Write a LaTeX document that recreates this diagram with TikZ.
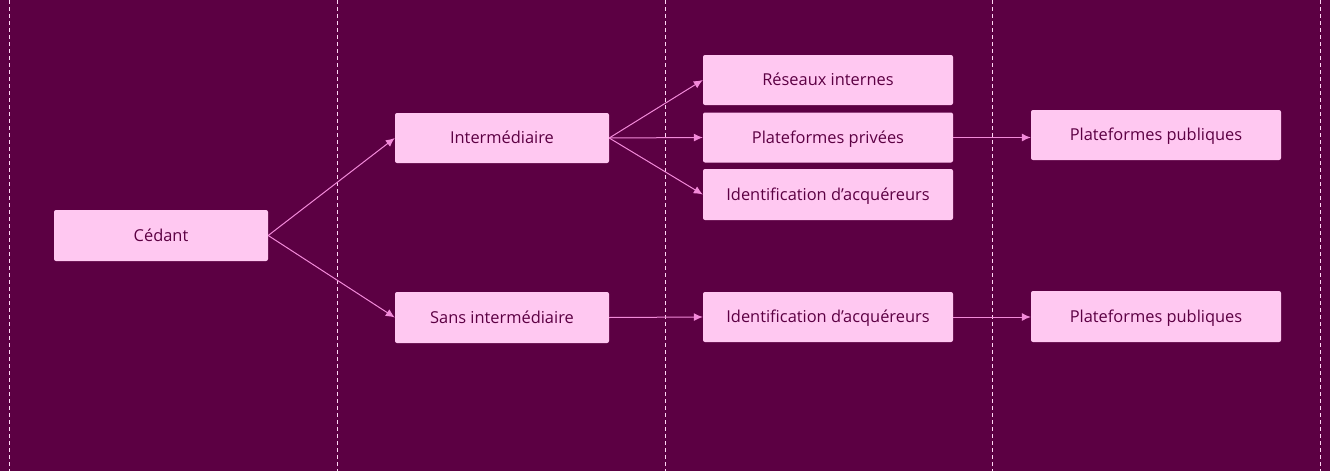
\documentclass[tikz,border=0pt]{standalone}
\usepackage{fontspec}
\setmainfont{Open Sans}
\usetikzlibrary{arrows.meta}
\definecolor{bg}{HTML}{5C0043}
\definecolor{boxfill}{HTML}{FFC8F1}
\definecolor{txt}{HTML}{5C0043}
\definecolor{arr}{HTML}{F28AD9}
\definecolor{lane}{HTML}{FFD6F4}
\tikzset{
  box/.style={draw=none, fill=boxfill, rounded corners=2pt, text=txt, font=\fontsize{16.4}{19}\selectfont, inner sep=0pt, text height=11.7pt, text depth=0pt, anchor=center},
  link/.style={draw=arr, line width=1pt, -{Latex[length=9pt,width=8pt]}},
  lanes/.style={draw=lane, line width=1pt, dash pattern=on 4pt off 3pt}
}
\begin{document}
\begin{tikzpicture}[x=1pt,y=-1pt]
\fill[bg] (0,0) rectangle (1330,471);
\useasboundingbox (0,0) rectangle (1330,471);
\foreach \xx/\nm in {9/l1,337/l2,665/l3,992/l4,1320/l5}{
  \coordinate (\nm t) at (\xx,0);
  \coordinate (\nm b) at (\xx,471);
  \draw[lanes] (\nm t) -- (\nm b);
}
\node[box, minimum width=214pt, minimum height=51pt] (cedant) at (161,235.5) {Cédant};
\node[box, minimum width=214pt, minimum height=50pt] (inter) at (502,138) {Intermédiaire};
\node[box, minimum width=214pt, minimum height=51pt] (sans) at (502,317.5) {Sans intermédiaire};
\node[box, minimum width=250pt, minimum height=50pt] (reseaux) at (828,80) {Réseaux internes};
\node[box, minimum width=250pt, minimum height=50pt] (privees) at (828,137.5) {Plateformes privées};
\node[box, minimum width=250pt, minimum height=51pt] (ident1) at (828,194.5) {Identification d’acquéreurs};
\node[box, minimum width=250pt, minimum height=50pt] (ident2) at (828,317) {Identification d’acquéreurs};
\node[box, minimum width=250pt, minimum height=50pt] (pub1) at (1156,135) {Plateformes publiques};
\node[box, minimum width=250pt, minimum height=51pt] (pub2) at (1156,316.5) {Plateformes publiques};
\draw[link] (cedant.east) -- (inter.west);
\draw[link] (cedant.east) -- (sans.west);
\draw[link] (inter.east) -- (reseaux.west);
\draw[link] (inter.east) -- (privees.west);
\draw[link] (inter.east) -- (ident1.west);
\draw[link] (sans.east) -- (ident2.west);
\draw[link] (privees.east) -- (privees.east -| pub1.west);
\draw[link] (ident2.east) -- (ident2.east -| pub2.west);
\end{tikzpicture}
\end{document}
